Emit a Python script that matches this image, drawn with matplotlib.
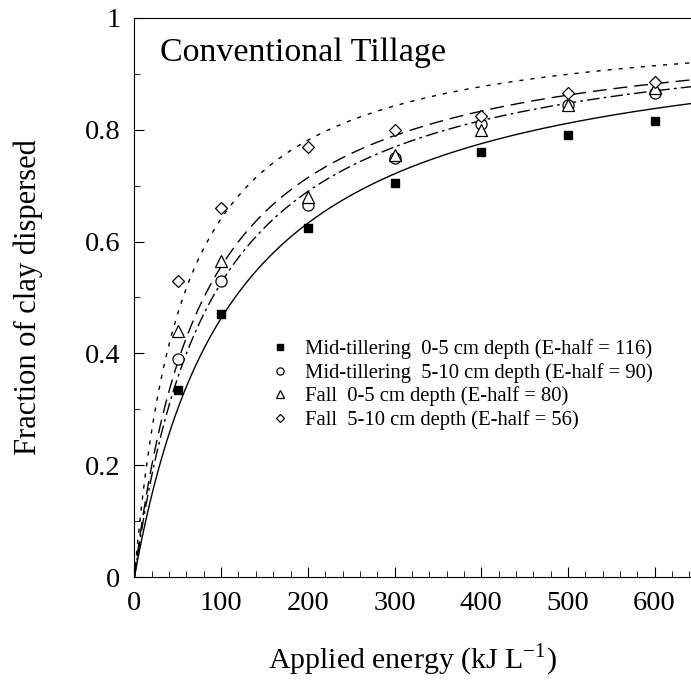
import matplotlib
matplotlib.use('Agg')
import matplotlib.pyplot as plt
from matplotlib.ticker import MultipleLocator
import numpy as np

plt.rcParams['font.family'] = ['Liberation Serif', 'DejaVu Serif']

energy = [50, 100, 200, 300, 400, 500, 600]
mid_0_5 = [0.335, 0.47, 0.625, 0.705, 0.76, 0.79, 0.815]
mid_5_10 = [0.39, 0.53, 0.665, 0.75, 0.81, 0.845, 0.865]
fall_0_5 = [0.44, 0.565, 0.68, 0.755, 0.80, 0.845, 0.875]
fall_5_10 = [0.53, 0.66, 0.77, 0.80, 0.825, 0.865, 0.885]

# fitted E-half values given in the legend
e_half = [116, 90, 80, 56]
labels = ['Mid-tillering  0-5 cm depth (E-half = 116)',
          'Mid-tillering  5-10 cm depth (E-half = 90)',
          'Fall  0-5 cm depth (E-half = 80)',
          'Fall  5-10 cm depth (E-half = 56)']

fig = plt.figure(figsize=(6.91, 6.81), dpi=100)
ax = fig.add_axes([0.1946, 0.1527, 0.8054, 0.8209])

e = np.linspace(0, 650, 400)
styles = ['-', (0, (9, 3, 2, 3)), (0, (10, 5)), (0, (3, 5))]
for eh, ls in zip(e_half, styles):
    ax.plot(e, e / (e + eh), color='black', lw=1.0, linestyle=ls)

ax.plot(energy, mid_0_5, 's', color='black', ms=6, label=labels[0])
ax.plot(energy, mid_5_10, 'o', mfc='white', mec='black', mew=0.9, ms=8, label=labels[1])
ax.plot(energy, fall_0_5, '^', mfc='white', mec='black', mew=0.9, ms=8, label=labels[2])
ax.plot(energy, fall_5_10, 'D', mfc='white', mec='black', mew=0.9, ms=6.5, label=labels[3])

ax.set_xlim(0, 642)
ax.set_ylim(0, 1)
ax.xaxis.set_major_locator(MultipleLocator(100))
ax.xaxis.set_minor_locator(MultipleLocator(20))
ax.yaxis.set_minor_locator(MultipleLocator(0.1))
ax.set_yticks([0, 0.2, 0.4, 0.6, 0.8, 1])
ax.set_yticklabels(['0', '0.2', '0.4', '0.6', '0.8', '1'])
ax.tick_params(which='both', direction='in', labelsize=20.5, pad=10)
ax.tick_params(which='major', length=7)
ax.tick_params(which='minor', length=4)
ax.spines['right'].set_visible(False)

ax.set_xlabel('Applied energy (kJ L$^{\\mathregular{-1}}$)', fontsize=21.5)
ax.xaxis.set_label_coords(0.499, -0.115)
ax.set_ylabel('Fraction of clay dispersed', fontsize=22)
ax.yaxis.set_label_coords(-0.165, 0.5)
ax.text(0.045, 0.965, 'Conventional Tillage', transform=ax.transAxes,
        fontsize=24.5, va='top', ha='left')

ax.legend(loc='upper left', bbox_to_anchor=(0.225, 0.44), frameon=False,
          fontsize=14.9, markerscale=0.65, handletextpad=0.6, labelspacing=0.18,
          handlelength=1.2, borderaxespad=0)

fig.savefig('out.png', dpi=100)
